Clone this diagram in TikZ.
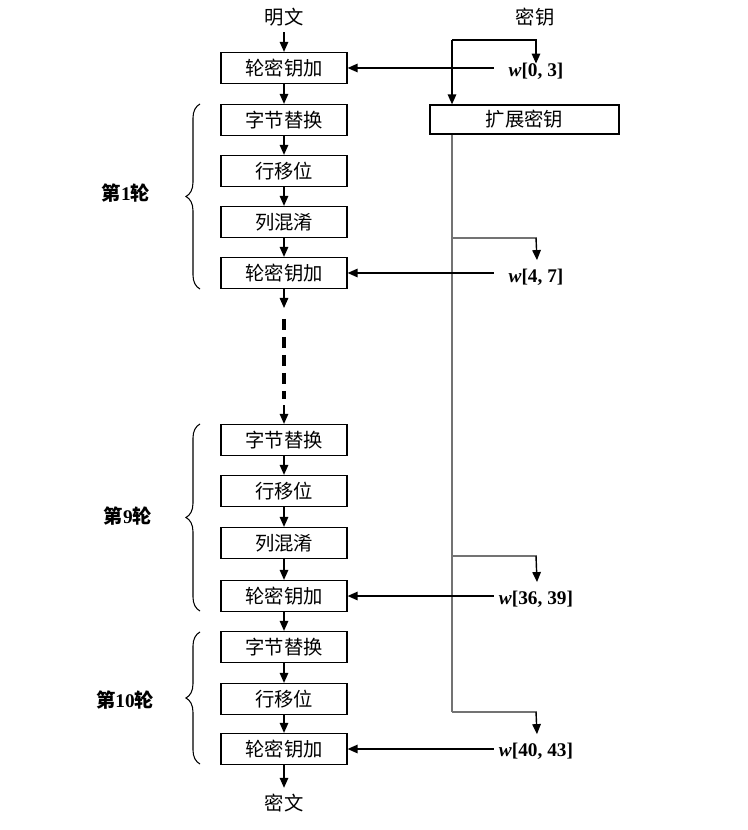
\documentclass[tikz,border=0pt]{standalone}
\usepackage{fontspec}
\setmainfont{Liberation Serif}
\newfontfamily\cjk{Noto Sans CJK SC}
\usetikzlibrary{positioning,arrows.meta,decorations.pathreplacing,calc}

\newcommand{\roundlab}[1]{{\cjk\bfseries 第}\textbf{#1}{\cjk\bfseries 轮}}

\begin{document}
\begin{tikzpicture}[
  x=0.02cm, y=-0.02cm,
  every node/.style={font=\fontsize{11}{13}\selectfont},
  box/.style={
    rectangle, draw=black, line width=0.7pt,
    minimum width=2.52cm, minimum height=0.62cm, inner sep=0pt,
    font=\cjk\fontsize{11}{13}\selectfont
  },
  arr/.style={-{Triangle[length=2mm,width=1.7mm]}, line width=0.8pt},
  keyarr/.style={{Triangle[length=2mm,width=1.7mm]}-, line width=0.8pt},
  trunk/.style={draw=black!55, line width=0.8pt},
  gap/.style={line width=1.8pt, dash pattern=on 0.22cm off 0.14cm},
  brace/.style={decorate, decoration={brace, amplitude=8pt}, line width=0.6pt}
]
\useasboundingbox (0,0) rectangle (747,830);

% left column
\node (plain) at (284,17) {\cjk 明文};
\node[box] (a0)  at (284,68)  {轮密钥加};
\node[box] (s1)  at (284,120) {字节替换};
\node[box] (r1)  at (284,171) {行移位};
\node[box] (m1)  at (284,222) {列混淆};
\node[box] (a1)  at (284,273) {轮密钥加};
\node[box] (s9)  at (284,440) {字节替换};
\node[box] (r9)  at (284,491) {行移位};
\node[box] (m9)  at (284,543) {列混淆};
\node[box] (a9)  at (284,596) {轮密钥加};
\node[box] (s10) at (284,647) {字节替换};
\node[box] (r10) at (284,699) {行移位};
\node[box] (a10) at (284,749) {轮密钥加};
\node (cipher) at (284,803) {\cjk 密文};

\draw[arr] (plain) -- (a0);
\draw[arr] (a0) -- (s1);
\draw[arr] (s1) -- (r1);
\draw[arr] (r1) -- (m1);
\draw[arr] (m1) -- (a1);
\draw[arr] (s9) -- (r9);
\draw[arr] (r9) -- (m9);
\draw[arr] (m9) -- (a9);
\draw[arr] (a9) -- (s10);
\draw[arr] (s10) -- (r10);
\draw[arr] (r10) -- (a10);
\draw[arr] (a10) -- (cipher);

% skipped rounds
\coordinate (d0) at (284,308);
\coordinate (d1) at (284,319);
\coordinate (d2) at (284,399);
\coordinate (d3) at (284,405);
\draw[arr] (a1) -- (d0);
\draw[gap] (d1) -- (d2);
\draw[arr] (d3) -- (s9);

% key schedule
\node (key) at (535,17) {\cjk 密钥};
\node[box, minimum width=3.78cm, minimum height=0.58cm] (expand) at (524.5,119.5) {扩展密钥};
\node (w0)  at (536,71)  {\textbf{\textit{w}[0, 3]}};
\node (w1)  at (536,277) {\textbf{\textit{w}[4, 7]}};
\node (w9)  at (536,599) {\textbf{\textit{w}[36, 39]}};
\node (w10) at (536,751) {\textbf{\textit{w}[40, 43]}};

\coordinate (k0) at (452,40);
\coordinate (t1) at (452,238);
\coordinate (t9) at (452,556);
\coordinate (t10) at (452,712);
\draw[arr] (k0) -| ([yshift=-0.14cm]w0.north);
\draw[arr] (k0) -- (expand.north -| k0);
\draw[trunk] (expand.south -| k0) -- (t10);
\draw[trunk] (t1) -- ++(85,0);
\draw[trunk] (t9) -- ++(85,0);
\draw[trunk] (t10) -- ++(85,0);
\draw[arr] ($(t1)+(84,0)$) -- ([yshift=0.05cm]w1.north -| 537,0);
\draw[arr] ($(t9)+(84,0)$) -- ([yshift=0.05cm]w9.north -| 537,0);
\draw[arr] ($(t10)+(84,0)$) -- ([yshift=0.05cm]w10.north -| 537,0);

% round keys into the state
\draw[keyarr] (a0.east) -- ++(146,0);
\draw[keyarr] (a1.east) -- ++(146,0);
\draw[keyarr] (a9.east) -- ++(146,0);
\draw[keyarr] (a10.east) -- ++(146,0);

% round braces
\draw[brace] (200,289) -- (200,104);
\draw[brace] (200,611) -- (200,424);
\draw[brace] (200,764) -- (200,632);
\node (lab1)  at (126,193) {\roundlab{1}};
\node (lab9)  at (128,516) {\roundlab{9}};
\node (lab10) at (125,700) {\roundlab{10}};

\end{tikzpicture}
\end{document}
